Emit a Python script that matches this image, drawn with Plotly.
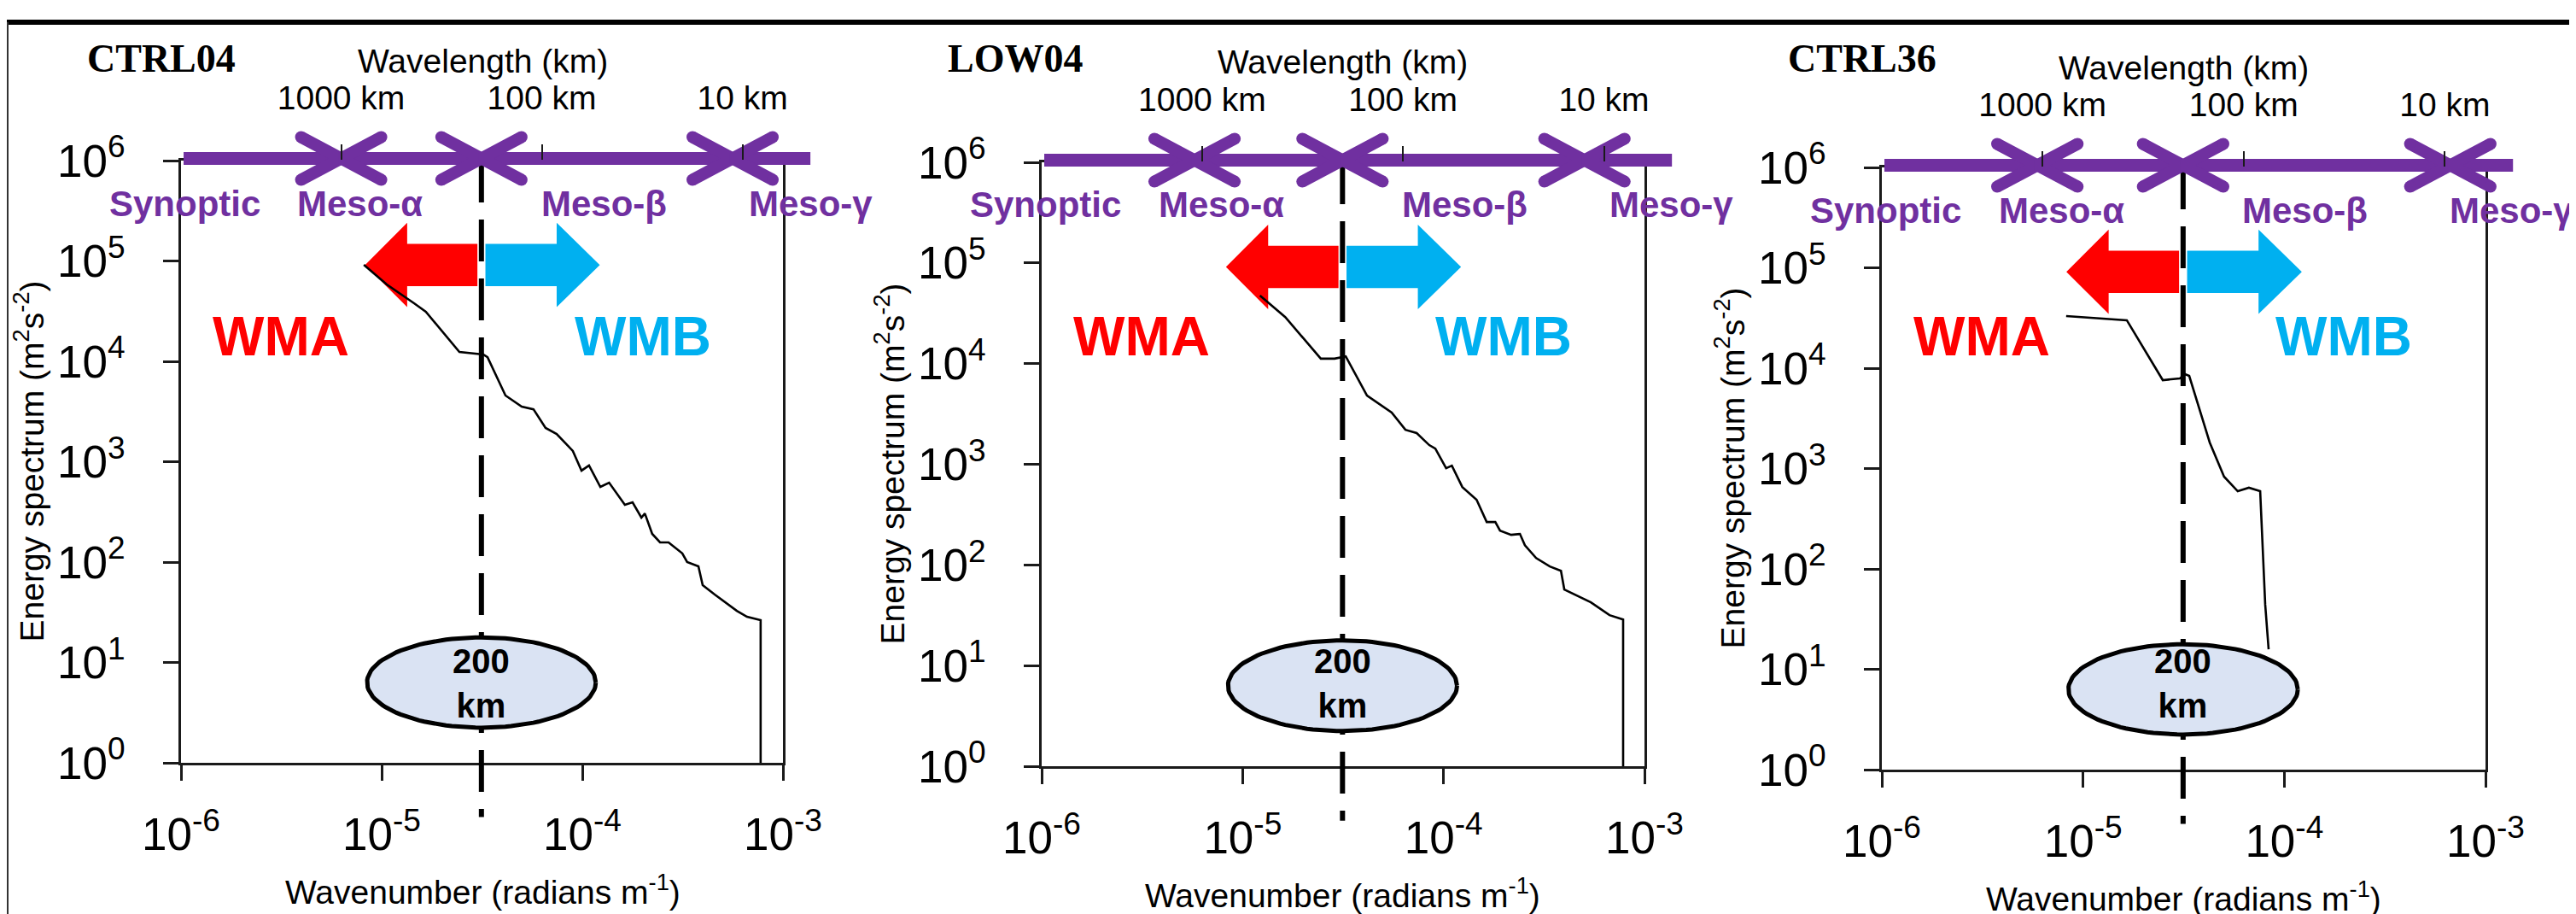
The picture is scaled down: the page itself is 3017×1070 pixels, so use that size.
import numpy as np
import plotly.graph_objects as go

W, H = 3017, 1070

# ---------------- data ----------------
panels = ["CTRL04", "LOW04", "CTRL36"]

# kinetic energy spectra: wavenumber (radians m-1) and energy (m2 s-2)
ctrl04_k = [8.15e-6, 1.06e-5, 1.45e-5, 1.66e-5, 2.44e-5, 3.21e-5, 3.37e-5, 4.14e-5, 4.99e-5,
            5.71e-5, 6.56e-5, 7.45e-5, 8.97e-5, 9.91e-5, 1.08e-4, 1.23e-4, 1.36e-4, 1.63e-4,
            1.78e-4, 1.97e-4, 2.05e-4, 2.23e-4, 2.44e-4, 2.69e-4, 3.15e-4, 3.33e-4, 3.79e-4,
            3.98e-4, 4.57e-4, 5.35e-4, 5.89e-4, 6.62e-4, 7.74e-4, 7.74e-4]
ctrl04_E = [9.16e4, 5.83e4, 3.79e4, 3.12e4, 1.24e4, 1.17e4, 1.10e4, 4.57e3, 3.54e3,
            3.33e3, 2.17e3, 1.89e3, 1.28e3, 815, 916, 561, 618, 372,
            394, 277, 305, 191, 157, 157, 122, 100, 90.6,
            58.9, 47.5, 37.5, 32.7, 28.5, 26.4, 1.0]

low04_k = [1.22e-5, 1.63e-5, 2.45e-5, 2.87e-5, 3.26e-5, 4.16e-5, 5.52e-5, 6.46e-5, 7.35e-5,
           8.49e-5, 9.10e-5, 1.03e-4, 1.10e-4, 1.24e-4, 1.46e-4, 1.64e-4, 1.81e-4, 1.91e-4,
           2.17e-4, 2.40e-4, 2.54e-4, 2.89e-4, 3.38e-4, 3.84e-4, 3.99e-4, 5.41e-4, 6.70e-4,
           7.83e-4, 7.83e-4]
low04_E = [4.74e4, 2.90e4, 1.12e4, 1.12e4, 1.18e4, 4.82e3, 3.26e3, 2.20e3, 2.04e3,
           1.55e3, 1.43e3, 914, 968, 594, 444, 267, 267, 219,
           199, 203, 157, 117, 96.6, 87.5, 57.0, 42.5, 31.7,
           28.7, 1.0]

ctrl36_k = [8.24e-6, 1.65e-5, 2.49e-5, 3.03e-5, 3.21e-5, 3.37e-5, 4.26e-5, 5.02e-5, 5.87e-5,
            6.67e-5, 7.59e-5, 8.04e-5, 8.36e-5]
ctrl36_E = [3.30e4, 3.00e4, 7.60e3, 7.91e3, 8.71e3, 8.38e3, 1.82e3, 830, 594,
            644, 594, 44.0, 15.8]

spectra = {"CTRL04": (ctrl04_k, ctrl04_E), "LOW04": (low04_k, low04_E), "CTRL36": (ctrl36_k, ctrl36_E)}

# scale boundaries (km) on the purple scale bar: Synoptic|Meso-a, Meso-a|Meso-b, Meso-b|Meso-g
scale_bounds_km = {"CTRL04": [1000, 200, 11.2], "LOW04": [1090, 200, 12.5], "CTRL36": [1060, 200, 9.4]}
scale_names = ["Synoptic", "Meso-α", "Meso-β", "Meso-γ"]
purple_span_k = [1.03e-6, 1.37e-3]
purple_level_E = 1.05e6

cutoff_km = 200
wavelength_ticks_km = [1000, 100, 10]
wavelength_tick_text = ["1000 km", "100 km", "10 km"]

x_tick_exps = [-6, -5, -4, -3]
y_tick_exps = [0, 1, 2, 3, 4, 5, 6]

# ---------------- style / layout constants ----------------
SANS = "Liberation Sans, Arial, Helvetica, sans-serif"
SERIF = "Liberation Serif, Times New Roman, serif"
PURPLE = "#7030A0"
RED = "#FF0000"
BLUE = "#00B0F0"
ELL_FILL = "#DAE3F3"
AX = "#1a1a1a"

boxes_px = [(204, 909, 180, 885), (1212, 1918, 182, 889), (2196, 2903, 188, 893)]
PAD_L, PAD_R, PAD_T, PAD_B = 10, 70, 70, 80


def power_label(e):
    return f"10<sup>{e}</sup>"


def px_x(p):
    return p / W


def px_y(p):
    return 1 - p / H


def axname(prefix, n):
    return prefix if n == 1 else f"{prefix}{n}"


fig = go.Figure()
layout = dict(width=W, height=H, margin=dict(l=0, r=0, t=0, b=0),
              paper_bgcolor="white", plot_bgcolor="rgba(0,0,0,0)",
              showlegend=False, font=dict(family=SANS, color="black"))
annotations = []
shapes = []


def ann(text, x, y, size, color="black", family=SANS, xanchor="center", yanchor="middle", angle=0):
    annotations.append(dict(text=text, x=px_x(x), y=px_y(y), xref="paper", yref="paper",
                            showarrow=False, xanchor=xanchor, yanchor=yanchor, textangle=angle,
                            font=dict(size=size, color=color, family=family)))


def ghost(xa, ya, x, y):
    fig.add_trace(go.Scatter(x=[x], y=[y], xaxis=xa, yaxis=ya, mode="markers",
                             marker=dict(opacity=0, size=1), hoverinfo="skip"))


k200 = 2 * np.pi / (cutoff_km * 1e3)
lk200 = np.log10(k200)
common = dict(showgrid=False, zeroline=False, automargin=False, fixedrange=True)

for i, name in enumerate(panels):
    L, R, T, B = boxes_px[i]
    dxp = (R - L) / 3.0
    dyp = (B - T) / 6.0
    nm, nd, nt = i + 1, i + 4, i + 7
    xm, ym = axname("x", nm), axname("y", nm)
    xd, yd = axname("x", nd), axname("y", nd)
    xt, yt = axname("x", nt), axname("y", nt)

    # ---- main frame axes ----
    layout[axname("xaxis", nm)] = dict(
        type="log", range=[-6, -3], domain=[px_x(L), px_x(R)], anchor=ym,
        showline=True, linecolor=AX, linewidth=2.5, mirror=True,
        ticks="outside", ticklen=18, tickwidth=2.5, tickcolor=AX,
        tickvals=[10.0 ** e for e in x_tick_exps],
        ticktext=[power_label(e) for e in x_tick_exps],
        tickfont=dict(size=53, family=SANS, color="black"), ticklabelstandoff=18, **common)
    layout[axname("yaxis", nm)] = dict(
        type="log", range=[0, 6], domain=[px_y(B), px_y(T)], anchor=xm,
        showline=True, linecolor=AX, linewidth=2.5, mirror=True,
        ticks="outside", ticklen=18, tickwidth=2.5, tickcolor=AX,
        tickvals=[10.0 ** e for e in y_tick_exps],
        ticktext=[power_label(e) for e in y_tick_exps],
        tickfont=dict(size=53, family=SANS, color="black"), ticklabelstandoff=34, **common)
    ghost(xm, ym, 1e-5, 10)

    # ---- decoration axes: same log scale, extended a little beyond the frame ----
    layout[axname("xaxis", nd)] = dict(
        type="log", range=[-6 - PAD_L / dxp, -3 + PAD_R / dxp],
        domain=[px_x(L - PAD_L), px_x(R + PAD_R)], anchor=yd, visible=False, **common)
    layout[axname("yaxis", nd)] = dict(
        type="log", range=[0 - PAD_B / dyp, 6 + PAD_T / dyp],
        domain=[px_y(B + PAD_B), px_y(T - PAD_T)], anchor=xd, visible=False, **common)

    # ---- top wavelength axis (thin strip whose top edge is the frame top) ----
    layout[axname("xaxis", nt)] = dict(
        type="log", range=[-6, -3], domain=[px_x(L), px_x(R)], anchor=yt, side="top",
        showline=False, ticks="outside", ticklen=18, tickwidth=2, tickcolor=AX,
        tickvals=[2 * np.pi / (lam * 1e3) for lam in wavelength_ticks_km],
        ticktext=wavelength_tick_text,
        tickfont=dict(size=39, family=SANS, color="black"), ticklabelstandoff=25, **common)
    layout[axname("yaxis", nt)] = dict(
        range=[0, 1], domain=[px_y(T + 2), px_y(T)], anchor=xt, visible=False, **common)
    ghost(xt, yt, 1e-5, 0.5)

    # WMA / WMB arrows (decades relative to the 200 km cutoff)
    ay, hh, sh = 4.96, 0.42, 0.21
    red_rel = [-0.02, -0.37, -0.37, -0.58, -0.37, -0.37, -0.02]
    blue_rel = [0.02, 0.375, 0.375, 0.59, 0.375, 0.375, 0.02]
    y_rel = [sh, sh, hh, 0, -hh, -sh, -sh]
    for rel, col in ((red_rel, RED), (blue_rel, BLUE)):
        fig.add_trace(go.Scatter(
            x=[10 ** (lk200 + r) for r in rel], y=[10 ** (ay + v) for v in y_rel],
            xaxis=xd, yaxis=yd, mode="lines", fill="toself", fillcolor=col,
            line=dict(width=0, color=col), hoverinfo="skip"))

    # dashed 200 km line (continues below the frame)
    fig.add_trace(go.Scatter(x=[k200, k200], y=[1.0e6, 10 ** (-0.54)], xaxis=xd, yaxis=yd,
                             mode="lines", line=dict(color="black", width=6, dash="49px,20px"),
                             hoverinfo="skip"))

    # purple scale bar with chevron arrow heads
    fig.add_trace(go.Scatter(x=purple_span_k, y=[purple_level_E, purple_level_E], xaxis=xd, yaxis=yd,
                             mode="lines", line=dict(color=PURPLE, width=15), hoverinfo="skip"))
    ly = np.log10(purple_level_E)
    cx, cy, ex, ey = [], [], [], []
    for lam in scale_bounds_km[name]:
        lb = np.log10(2 * np.pi / (lam * 1e3))
        for sgn in (-1, 1):
            pts = [(lb + sgn * 0.2, ly + 0.213), (lb, ly), (lb + sgn * 0.2, ly - 0.213)]
            cx += [10 ** p[0] for p in pts] + [None]
            cy += [10 ** p[1] for p in pts] + [None]
            ex += [10 ** pts[0][0], 10 ** pts[2][0]]
            ey += [10 ** pts[0][1], 10 ** pts[2][1]]
    fig.add_trace(go.Scatter(x=cx, y=cy, xaxis=xd, yaxis=yd, mode="lines", connectgaps=False,
                             line=dict(color=PURPLE, width=14), hoverinfo="skip"))
    fig.add_trace(go.Scatter(x=ex, y=ey, xaxis=xd, yaxis=yd, mode="markers",
                             marker=dict(color=PURPLE, size=14, line=dict(width=0)), hoverinfo="skip"))

    # spectrum curve
    kk, EE = spectra[name]
    fig.add_trace(go.Scatter(x=kk, y=EE, xaxis=xd, yaxis=yd, mode="lines",
                             line=dict(color="black", width=2.6), hoverinfo="skip"))

    # 200 km ellipse
    t = np.linspace(0, 2 * np.pi, 121)
    fig.add_trace(go.Scatter(x=10 ** (lk200 + 0.57 * np.cos(t)), y=10 ** (0.80 + 0.45 * np.sin(t)),
                             xaxis=xd, yaxis=yd, mode="lines", fill="toself", fillcolor=ELL_FILL,
                             line=dict(color="black", width=5), hoverinfo="skip"))

    # texts
    xc = L + dxp * (lk200 + 6)
    ann(f"<b>{name}</b>", L - 112, 60, 46, family=SERIF, xanchor="left")
    ann("Wavelength (km)", L + 353, T - 117, 39)
    ann(f"<b>{scale_names[0]}</b>", L + 4, T + 50, 42, color=PURPLE)
    ann(f"<b>{scale_names[1]}</b>", L + 210, T + 50, 42, color=PURPLE)
    ann(f"<b>{scale_names[2]}</b>", L + 495, T + 50, 42, color=PURPLE)
    ann(f"<b>{scale_names[3]}</b>", L + 663, T + 50, 42, color=PURPLE, xanchor="left")
    ann("<b>WMA</b>", L + 117, 386, 64, color=RED)
    ann("<b>WMB</b>", L + 541, 386, 64, color=BLUE)
    ann("<b>200<br>km</b>", xc, 792, 40)
    ann("Wavenumber (radians m<sup>-1</sup>)", L + 353, B + 148, 39)
    ann("Energy spectrum (m<sup>2</sup>s<sup>-2</sup>)", L - 178, (T + B) / 2, 39, angle=-90)

# outer frame of the composite figure
shapes.append(dict(type="line", xref="paper", yref="paper", x0=0, x1=1, y0=px_y(18), y1=px_y(18),
                   line=dict(color="black", width=6)))
shapes.append(dict(type="line", xref="paper", yref="paper", x0=px_x(1), x1=px_x(1), y0=px_y(18), y1=0,
                   line=dict(color="#333", width=2)))

layout["annotations"] = annotations
layout["shapes"] = shapes
fig.update_layout(template="none")
fig.update_layout(**layout)
fig.write_html("out.html")
